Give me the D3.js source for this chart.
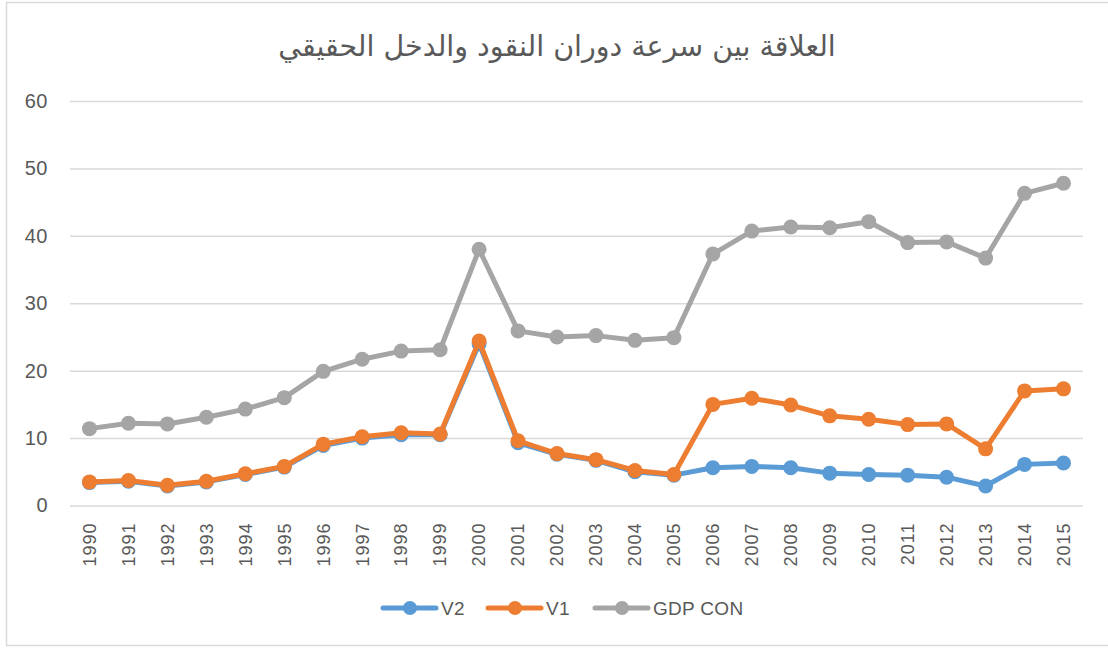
<!DOCTYPE html>
<html>
<head>
<meta charset="utf-8">
<script src="https://cdn.jsdelivr.net/npm/d3@7"></script>
<style>
  body { margin: 0; background: #fff; }
  .chart text { fill: #595959; }
</style>
</head>
<body>
<div class="js-chart chart"></div>
<script>
var years = ['1990', '1991', '1992', '1993', '1994', '1995', '1996', '1997',
             '1998', '1999', '2000', '2001', '2002', '2003', '2004', '2005',
             '2006', '2007', '2008', '2009', '2010', '2011', '2012', '2013',
             '2014', '2015'];

var v2 = [3.4, 3.6, 2.9, 3.5, 4.6, 5.7, 8.9, 10.0, 10.5, 10.5, 24.0, 9.3,
          7.6, 6.7, 5.0, 4.5, 5.6, 5.8, 5.6, 4.8, 4.6, 4.5, 4.2, 2.9, 6.1, 6.3];

var v1 = [3.5, 3.7, 3.0, 3.6, 4.7, 5.8, 9.1, 10.2, 10.8, 10.6, 24.4, 9.6,
          7.7, 6.8, 5.2, 4.6, 15.0, 15.9, 14.9, 13.3, 12.8, 12.0, 12.1, 8.4,
          17.0, 17.3];

var gdpCon = [11.4, 12.2, 12.1, 13.1, 14.3, 16.0, 19.9, 21.7, 22.9, 23.1,
              38.0, 25.9, 25.0, 25.2, 24.5, 24.9, 37.3, 40.7, 41.3, 41.2,
              42.1, 39.0, 39.1, 36.7, 46.3, 47.8];

var yTicks = [0, 10, 20, 30, 40, 50, 60];

var chartTitle = 'العلاقة بين سرعة دوران النقود والدخل الحقيقي';

// Drawing order: V2 underneath, then V1, then GDP CON on top.
var series = [
  {name: 'V2', values: v2, color: '#5B9BD5'},
  {name: 'V1', values: v1, color: '#ED7D31'},
  {name: 'GDP CON', values: gdpCon, color: '#A5A5A5'}
];

(function() {
  'use strict';

  var totalW = 1108,
      totalH = 648;

  var margin = {top: 101, bottom: 142.5, left: 70, right: 25};

  var svg = d3.select('.js-chart')
              .append('svg')
              .attr('width', totalW)
              .attr('height', totalH)
              .style('font-family', '"Liberation Sans", Arial, sans-serif');

  // Thin outer frame, the right edge runs off the picture.
  svg.append('rect')
      .attr('x', 6.5)
      .attr('y', 2.5)
      .attr('width', totalW + 10)
      .attr('height', totalH - 5)
      .attr('fill', 'none')
      .attr('stroke', '#D9D9D9')
      .attr('stroke-width', 1.5);

  var xScale = d3.scaleBand()
                  .domain(years)
                  .range([margin.left, totalW - margin.right]);

  var yScale = d3.scaleLinear()
                  .domain([0, 60])
                  .range([totalH - margin.bottom, margin.top]);

  // Gridlines and y labels.
  var yAxis = svg.append('g')
      .attr('transform', 'translate(' + margin.left + ',0)')
      .call(d3.axisLeft(yScale)
              .tickValues(yTicks)
              .tickSize(-(totalW - margin.left - margin.right))
              .tickPadding(22));

  yAxis.select('.domain').remove();
  yAxis.selectAll('line')
      .attr('stroke', '#D9D9D9')
      .attr('stroke-width', 1.5);
  yAxis.selectAll('text')
      .style('font-size', '20px')
      .attr('letter-spacing', '0.5px')
      .attr('fill', '#595959');

  // Year labels, rotated.
  var xAxis = svg.append('g')
      .attr('transform', 'translate(0,' + (totalH - margin.bottom) + ')')
      .call(d3.axisBottom(xScale).tickSize(0).tickPadding(0));

  xAxis.select('.domain').remove();
  xAxis.selectAll('text')
      .attr('transform', 'rotate(-90)')
      .attr('text-anchor', 'end')
      .attr('x', -17)
      .attr('y', 0)
      .attr('dy', '0.35em')
      .attr('dx', 0)
      .attr('letter-spacing', '1px')
      .style('font-size', '18px')
      .attr('fill', '#595959');

  var line = d3.line()
                .x(function(d, i) { return xScale(years[i]) + xScale.bandwidth() / 2; })
                .y(function(d) { return yScale(d); });

  var groups = svg.selectAll('.js-series')
                  .data(series)
                  .enter()
                  .append('g')
                  .classed('js-series', true);

  groups.append('path')
      .attr('d', function(s) { return line(s.values); })
      .attr('fill', 'none')
      .attr('stroke', function(s) { return s.color; })
      .attr('stroke-width', 5)
      .attr('stroke-linejoin', 'round');

  groups.selectAll('circle')
      .data(function(s) { return s.values.map(function(v, i) {
        return {v: v, year: years[i], color: s.color};
      }); })
      .enter()
      .append('circle')
      .attr('cx', function(d) { return xScale(d.year) + xScale.bandwidth() / 2; })
      .attr('cy', function(d) { return yScale(d.v); })
      .attr('r', 7.5)
      .attr('fill', function(d) { return d.color; });

  // Title.
  svg.append('text')
      .attr('x', 557)
      .attr('y', 56)
      .attr('text-anchor', 'middle')
      .attr('direction', 'rtl')
      .style('font-family', '"DejaVu Sans", sans-serif')
      .style('font-size', '28.5px')
      .attr('fill', '#595959')
      .text(chartTitle);

  // Legend.
  var legendX = [383, 488, 595];
  var legend = svg.selectAll('.js-legend')
                  .data(series)
                  .enter()
                  .append('g')
                  .classed('js-legend', true)
                  .attr('transform', function(s, i) {
                    return 'translate(' + legendX[i] + ',608)';
                  });

  legend.append('line')
      .attr('x1', 0)
      .attr('x2', 53)
      .attr('stroke', function(s) { return s.color; })
      .attr('stroke-width', 5)
      .attr('stroke-linecap', 'round');

  legend.append('circle')
      .attr('cx', 27)
      .attr('r', 7)
      .attr('fill', function(s) { return s.color; });

  legend.append('text')
      .attr('x', 58)
      .attr('dy', '0.35em')
      .style('font-size', '19px')
      .attr('letter-spacing', '0.3px')
      .attr('fill', '#595959')
      .text(function(s) { return s.name; });
}());
</script>
</body>
</html>
